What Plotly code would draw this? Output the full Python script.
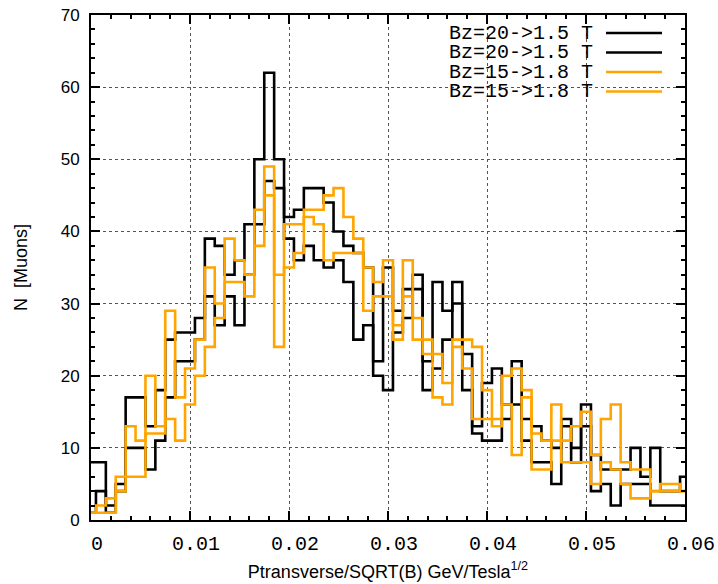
import plotly.graph_objects as go

# bin centres: 0.000 .. 0.060 step 0.001
x_bins = [round(i * 0.001, 3) for i in range(61)]

black_a = [8, 8, 2, 5, 17, 17, 13, 18, 25, 26, 26, 28, 39, 38, 34, 36, 41, 50, 62, 50,
           42, 43, 46, 46, 44, 40, 38, 37, 35, 22, 35, 29, 32, 34, 22, 33, 29, 33, 23, 13,
           19, 21, 16, 22, 14, 13, 11, 10, 14, 10, 16, 9, 7, 7, 7, 10, 6, 10, 4, 4, 6]
black_b = [1, 4, 1, 4, 10, 10, 7, 11, 17, 22, 22, 25, 31, 27, 31, 27, 34, 41, 47, 46,
           39, 36, 38, 36, 35, 36, 33, 25, 27, 20, 18, 26, 28, 32, 18, 21, 25, 30, 18, 12,
           11, 11, 14, 16, 11, 8, 8, 5, 13, 8, 13, 4, 5, 2, 5, 5, 5, 2, 2, 2, 2]
orange_a = [1, 2, 3, 6, 13, 11, 20, 13, 29, 17, 21, 25, 35, 30, 39, 36, 34, 43, 49, 34,
            41, 41, 43, 43, 45, 46, 42, 39, 35, 33, 36, 27, 36, 28, 25, 23, 19, 25, 25, 24,
            18, 14, 20, 21, 18, 12, 11, 16, 11, 13, 15, 9, 14, 16, 8, 7, 7, 4, 5, 5, 4]
orange_b = [1, 1, 1, 4, 6, 6, 12, 12, 14, 11, 16, 20, 24, 28, 33, 33, 31, 38, 45, 24,
            35, 37, 42, 41, 36, 37, 37, 37, 29, 31, 31, 25, 31, 25, 23, 17, 16, 24, 21, 14,
            14, 13, 16, 9, 17, 7, 7, 11, 8, 8, 8, 5, 8, 7, 5, 3, 3, 4, 4, 4, 4]

series_names = ["Bz=20->1.5 T", "Bz=20->1.5 T", "Bz=15->1.8 T", "Bz=15->1.8 T"]
series_vals = [black_a, black_b, orange_a, orange_b]
series_colors = ["#000000", "#000000", "#FFA500", "#FFA500"]

x_tick_vals = [0, 0.01, 0.02, 0.03, 0.04, 0.05, 0.06]
x_tick_labels = ["0", "0.01", "0.02", "0.03", "0.04", "0.05", "0.06"]

fig = go.Figure()
for name, vals, col in zip(series_names, series_vals, series_colors):
    fig.add_trace(go.Scatter(x=x_bins, y=vals, mode="lines", name=name,
                             line=dict(color=col, width=2.6, shape="hvh"),
                             showlegend=False))

# manual legend (text right-aligned, sample line on the right, gnuplot style)
L, R, T, B = 91, 685, 15, 520
W, H = R - L, B - T
rows_px = [33, 52.5, 72, 91.5]
for name, col, py in zip(series_names, series_colors, rows_px):
    yp = (B - py) / H
    fig.add_annotation(x=(594 - L) / W, y=yp, xref="paper", yref="paper",
                       text=name, showarrow=False, xanchor="right", yanchor="middle",
                       borderpad=0,
                       font=dict(family="Liberation Mono", size=20, color="black"))
    fig.add_shape(type="line", xref="paper", yref="paper",
                  x0=(606 - L) / W, x1=(662 - L) / W, y0=yp, y1=yp,
                  line=dict(color=col, width=2.6))

axis_common = dict(showline=True, linecolor="black", linewidth=2, mirror="ticks",
                   ticks="inside", ticklen=9, tickwidth=1.5, tickcolor="black",
                   showgrid=True, gridcolor="#555555", griddash="dot", gridwidth=1,
                   zeroline=False, automargin=False)

fig.update_xaxes(range=[0, 0.06], tickmode="array", tickvals=x_tick_vals,
                 ticktext=["\u00a0" + t for t in x_tick_labels],
                 tickfont=dict(family="Liberation Mono", size=20, color="black"),
                 ticklabelstandoff=4,
                 title=dict(text="Ptransverse/SQRT(B) GeV/Tesla<sup>1/2</sup>",
                            font=dict(family="Liberation Sans", size=18, color="black"),
                            standoff=10),
                 minor=dict(dtick=0.002, ticks="inside", ticklen=4, tickcolor="black",
                            showgrid=False),
                 **axis_common)
fig.update_yaxes(range=[0, 70], dtick=10, tick0=0,
                 tickfont=dict(family="Liberation Sans", size=17, color="black"),
                 ticklabelstandoff=6,
                 title=dict(text="N  [Muons]",
                            font=dict(family="Liberation Sans", size=18, color="black"),
                            standoff=28),
                 minor=dict(dtick=2, ticks="inside", ticklen=4, tickcolor="black",
                            showgrid=False),
                 **axis_common)

fig.update_layout(width=718, height=584,
                  margin=dict(l=L, r=718 - R, t=T, b=584 - B),
                  paper_bgcolor="white", plot_bgcolor="white")

fig.write_html("out.html")
